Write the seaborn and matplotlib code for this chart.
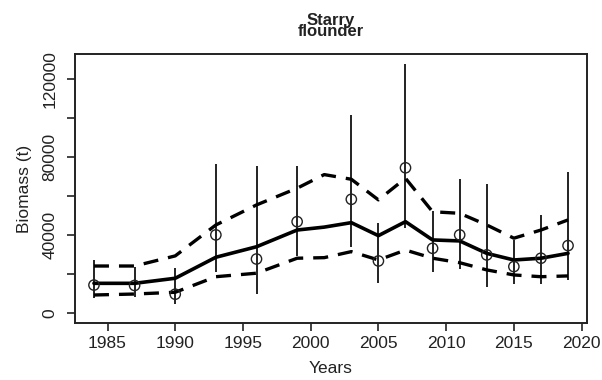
import matplotlib
matplotlib.use("Agg")
import matplotlib.pyplot as plt
import seaborn as sns
import pandas as pd
import numpy as np

# Survey estimates
years = [1984, 1987, 1990, 1993, 1996, 1999, 2003, 2005, 2007, 2009, 2011, 2013, 2015, 2017, 2019]
biomass = [14200, 14000, 9500, 40000, 27600, 46800, 58300, 26600, 74500, 33100, 40000, 29700, 23700, 28000, 34500]
ci_low = [7400, 8200, 4300, 21100, 9500, 29200, 33900, 15100, 43400, 21100, 22300, 13400, 14800, 14800, 16800]
ci_high = [27100, 23700, 23100, 76500, 75400, 75400, 101600, 46300, 127900, 52400, 68600, 66200, 37400, 50200, 72500]

# Model trend and bounds
trend_years = [1984, 1987, 1990, 1993, 1996, 1999, 2001, 2003, 2005, 2007, 2009, 2011, 2013, 2015, 2017, 2019]
trend = [15100, 15100, 17700, 28500, 33900, 42500, 44000, 46300, 39600, 46800, 37400, 36900, 30500, 27100, 28000, 30500]
upper = [24000, 24000, 29200, 45100, 55400, 64000, 71000, 68600, 58000, 69100, 51900, 51100, 45100, 38300, 42500, 47700]
lower = [9100, 9600, 10500, 18500, 20300, 28000, 28300, 31400, 27100, 32200, 28000, 25700, 22000, 19400, 18500, 18900]

xticks = [1985, 1990, 1995, 2000, 2005, 2010, 2015, 2020]
yticks = [0, 20000, 40000, 60000, 80000, 100000, 120000]
ytick_labels = ["0", "", "40000", "", "80000", "", "120000"]

sns.set_theme(style="ticks")
plt.rcParams['font.family'] = ['Liberation Sans', 'DejaVu Sans']

fig = plt.figure(figsize=(6.02, 3.80), dpi=100)
ax = fig.add_axes([75/602, 1-323/380, (587-75)/602, (323-54)/380])

obs = pd.DataFrame({"Year": years, "Biomass": biomass, "lo": ci_low, "hi": ci_high})
tr = pd.DataFrame({"Year": trend_years, "trend": trend, "upper": upper, "lower": lower})

ax.vlines(obs["Year"], obs["lo"], obs["hi"], color="#222222", lw=1.4, zorder=2)
sns.lineplot(data=tr, x="Year", y="trend", ax=ax, color="black", lw=2.6, zorder=3)
sns.lineplot(data=tr, x="Year", y="upper", ax=ax, color="black", lw=2.4, zorder=3)
sns.lineplot(data=tr, x="Year", y="lower", ax=ax, color="black", lw=2.4, zorder=3)
for ln in ax.lines[1:3]:
    ln.set_dashes([4.5, 3])
sns.scatterplot(data=obs, x="Year", y="Biomass", ax=ax, marker="o", s=55,
                facecolor="none", edgecolor="#222222", linewidth=1.0, zorder=4)

ax.set_xlim(1982.6, 2020.4)
ax.set_ylim(-5300, 133000)
ax.set_xticks(xticks)
ax.set_xticklabels([str(x) for x in xticks], fontsize=12.5, color="#222222")
ax.set_yticks(yticks)
ax.set_yticklabels(ytick_labels, fontsize=12.5, rotation=90, va="center", color="#222222")
ax.tick_params(axis="both", direction="out", length=5.5, width=1.2, color="#222222")
ax.tick_params(axis="y", pad=7)
ax.tick_params(axis="x", pad=4)
for sp in ax.spines.values():
    sp.set_visible(True)
    sp.set_linewidth(1.4)
    sp.set_color("#222222")

ax.set_xlabel("Years", fontsize=12.5, color="#222222", labelpad=7)
ax.set_ylabel("Biomass (t)", fontsize=12.5, color="#222222", labelpad=8)
ax.set_title("Starry\nflounder", fontsize=12, fontweight="bold", linespacing=0.68,
             color="#222222", pad=13)

fig.savefig("out.png", dpi=100)
